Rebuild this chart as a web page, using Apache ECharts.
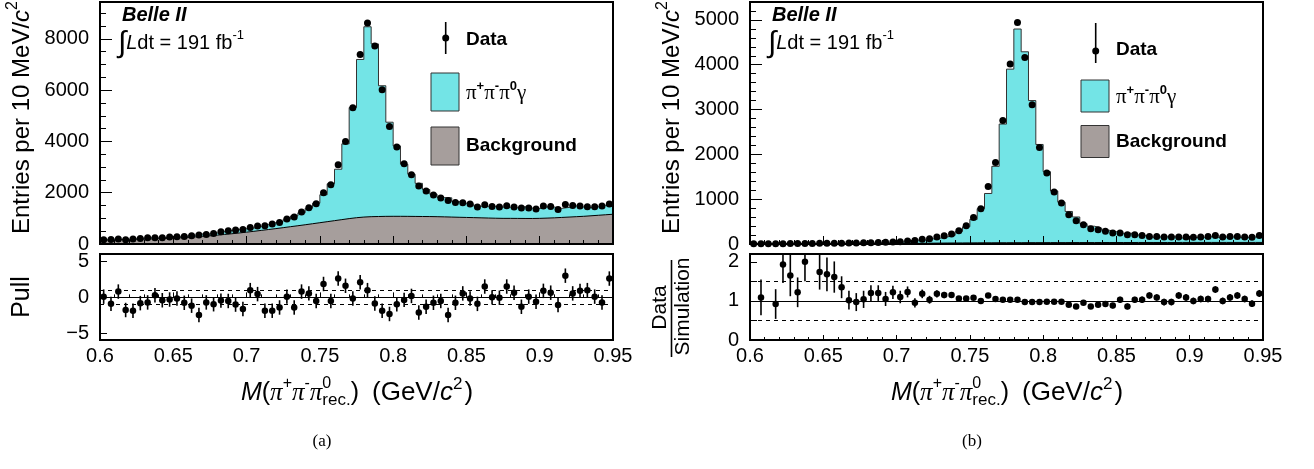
<!DOCTYPE html>
<html><head><meta charset="utf-8">
<script src="https://cdn.jsdelivr.net/npm/echarts@6/dist/echarts.min.js"></script>
<style>html,body{margin:0;padding:0;background:#fff}#c{width:1314px;height:469px}</style>
</head><body><div id="c"></div>
<script>
// ---------------- DATA ----------------
const X_MIN = 0.6, X_MAX = 0.95, BIN_W = 0.005, N_BINS = 70;
const xTickLabels = [0.6, 0.65, 0.7, 0.75, 0.8, 0.85, 0.9, 0.95];

// (a) left panel
const leftData = [166,179,192,166,192,218,244,244,244,270,
  283,296,322,348,374,413,478,517,543,569,
  647,699,712,777,842,972,1050,1245,1414,1570,
  1999,2311,3090,4000,5313,7392,8613,7717,6014,4585,
  3779,3129,2700,2259,2064,1908,1791,1700,1622,1609,
  1557,1440,1531,1466,1440,1492,1440,1401,1401,1362,
  1479,1466,1349,1544,1505,1479,1453,1453,1479,1557];
const leftMC = [165,191,181,189,218,230,255,239,250,275,
  286,309,343,394,388,432,488,528,566,607,
  622,687,761,829,883,969,1095,1217,1393,1590,
  1921,2345,2915,3905,5318,7195,8470,7800,6170,4748,
  3825,3110,2720,2365,2123,1941,1812,1801,1652,1587,
  1563,1474,1472,1466,1442,1434,1415,1450,1397,1384,
  1444,1441,1388,1426,1484,1444,1415,1449,1506,1454];
const leftBkg = [150,158,166,172,180,190,200,210,220,232,
  245,260,278,298,320,345,372,400,430,462,
  495,530,565,600,637,675,712,750,790,830,
  870,910,950,990,1025,1050,1065,1072,1078,1080,
  1080,1078,1075,1072,1070,1065,1058,1050,1042,1035,
  1028,1020,1012,1005,1000,1000,998,996,995,1000,
  1010,1020,1035,1050,1065,1080,1100,1120,1140,1160];
const leftPull = [0.1,-0.9,0.8,-1.75,-1.85,-0.8,-0.7,0.3,-0.4,-0.3,
  -0.15,-0.75,-1.15,-2.45,-0.7,-0.95,-0.45,-0.5,-1.0,-1.6,
  1.0,0.45,-1.85,-1.85,-1.4,0.1,-1.4,0.8,0.55,-0.5,
  1.85,-0.5,2.6,1.6,-0.15,2.1,1.0,-0.85,-1.85,-2.3,
  -0.95,-0.35,0.2,-2.1,-1.3,-0.75,-0.5,-2.45,-0.75,0.55,
  -0.15,-0.9,1.5,0,-0.05,1.5,0.65,-1.3,0.1,-0.6,
  0.9,0.65,-1.05,3.0,0.55,0.9,1.0,0.1,-0.7,2.6];
const PULL_ERR = 1;

// (b) right panel
const rightData = [5,6,6,7,8,9,10,11,12,14,
  15,17,19,21,24,27,30,34,38,44,
  51,66,80,105,118,156,185,223,297,408,
  594,787,1285,1820,2756,4019,4941,4160,3105,2154,
  1582,1158,913,653,519,430,341,319,282,245,
  245,207,208,192,170,170,155,155,155,155,
  148,155,170,192,155,170,170,155,148,192];
const rightMC = [4,5,3,8,4,5,8,6,4,8,
  9,10,14,21,25,26,25,28,36,36,
  46,54,84,89,115,132,161,194,280,385,
  550,787,1127,1733,2676,3902,4797,4289,3201,2221,
  1614,1182,932,726,603,453,397,354,307,278,
  238,241,202,186,149,156,160,160,136,142,
  148,148,162,149,155,156,149,148,159,161];
const rightBkg = [0,0,0,0,0,0,0,0,0,0,
  2,3,4,5,6,7,8,9,10,12,
  13,15,16,18,19,20,22,23,24,25,
  26,27,27,28,28,29,29,30,30,30,
  31,31,31,32,32,32,32,33,33,33,
  33,33,34,34,34,34,34,34,35,35,
  35,35,35,35,35,35,35,35,35,35];
const rightRatio = [null,1.09,null,0.92,1.93,1.65,1.22,2.0,null,1.74,
  1.68,1.61,1.35,1.02,0.97,1.04,1.2,1.2,1.05,1.22,
  1.1,1.23,0.95,1.18,1.03,1.18,1.15,1.15,1.06,1.06,
  1.08,1.0,1.14,1.05,1.03,1.03,1.03,0.97,0.97,0.97,
  0.98,0.98,0.98,0.9,0.86,0.95,0.86,0.9,0.92,0.88,
  1.03,0.86,1.03,1.03,1.14,1.09,0.97,0.97,1.14,1.09,
  1.0,1.05,1.05,1.29,1.0,1.09,1.14,1.05,0.93,1.19];
const rightRatioErr = [null,0.46,null,0.38,0.47,0.53,0.38,0.5,null,0.45,
  0.43,0.4,0.28,0.24,0.23,0.22,0.2,0.2,0.18,0.17,
  0.16,0.14,0.12,0.11,0.1,0.09,0.08,0.07,0.06,0.05,
  0.045,0.04,0.035,0.03,0.025,0.02,0.02,0.02,0.02,0.025,
  0.03,0.035,0.04,0.045,0.05,0.055,0.06,0.065,0.07,0.07,
  0.075,0.075,0.075,0.08,0.08,0.08,0.085,0.085,0.085,0.085,
  0.085,0.085,0.085,0.085,0.085,0.085,0.085,0.085,0.085,0.09];

// tick positions
const leftYMajor = [0,2000,4000,6000,8000];
const leftYMinor = [500,1000,1500,2000,2500,3000,3500,4000,4500,5000,5500,6000,6500,7000,7500,8000,8500,9000];
const rightYMajor = [0,1000,2000,3000,4000,5000];
const rightYMinor = [200,400,600,800,1000,1200,1400,1600,1800,2000,2200,2400,2600,2800,3000,3200,3400,3600,3800,4000,4200,4400,4600,4800,5000,5200];
const pullTicks = [-5,0,5];
const ratioLabels = [0,1,2];
const ratioTicks = [0,0.5,1,1.5,2];

// ---------------- HELPERS ----------------
const SANS = '"Liberation Sans", Arial, Helvetica, sans-serif';
const SERIF = '"Liberation Serif", "DejaVu Serif", serif';
const CYAN = '#73E4E6', GRAY = '#A69E9C';
const mctx = document.createElement('canvas').getContext('2d');

const center = i => X_MIN + BIN_W * (i + 0.5);
function hist(vals) {
  const d = vals.map((v, i) => [X_MIN + BIN_W * i, v]);
  d.push([X_MAX, vals[vals.length - 1]]);
  return d;
}
function pts(vals) {
  const d = [];
  vals.forEach((v, i) => { if (v != null) d.push([center(i), v]); });
  return d;
}
function errBars(xi, yi, vals, errFn) {
  const d = [];
  vals.forEach((v, i) => { const e = errFn(i); if (v != null && e != null) d.push([center(i), v, e]); });
  return {
    type: 'custom', xAxisIndex: xi, yAxisIndex: yi, z: 5, silent: true, data: d,
    encode: {x: 0, y: 1},
    renderItem: (params, api) => {
      const x = api.value(0), y = api.value(1), e = api.value(2);
      const p1 = api.coord([x, y - e]), p2 = api.coord([x, y + e]);
      const cs = params.coordSys, top = cs.y, bot = cs.y + cs.height;
      const c = v => Math.min(bot, Math.max(top, v));
      return {type: 'line', shape: {x1: p1[0], y1: c(p1[1]), x2: p2[0], y2: c(p2[1])},
        style: {stroke: '#000', lineWidth: 1.6}};
    }
  };
}
function refLines(solid, dashed) {
  return {
    symbol: ['none', 'none'], silent: true, animation: false,
    label: {show: false},
    lineStyle: {color: '#000', width: 1, type: [4, 4]},
    data: solid.map(v => ({yAxis: v, lineStyle: {type: 'solid', width: 1.2}}))
      .concat(dashed.map(v => ({yAxis: v})))
  };
}
function composite(pieces, opt) {
  let x = 0, lastStart = 0, lastEnd = 0;
  const items = [];
  pieces.forEach(p => {
    const fam = p.fam || SANS, st = p.style || 'normal', wt = p.weight || 'normal';
    mctx.font = `${st} ${wt} ${p.size}px ${fam}`;
    const w = mctx.measureText(p.t).width;
    let sx;
    if (p.stack) { sx = lastStart; lastEnd = Math.max(lastEnd, sx + w); x = lastEnd; }
    else { sx = x + (p.pre || 0); lastStart = sx; lastEnd = sx + w; x = lastEnd; }
    items.push({sx, p, fam, st, wt});
  });
  const W = x;
  const off = opt.align === 'center' ? -W / 2 : opt.align === 'right' ? -W : 0;
  return {
    type: 'group', x: opt.x, y: opt.y, rotation: opt.rotation || 0, z: 100,
    children: items.map(it => ({
      type: 'text', x: it.sx + off, y: it.p.dy || 0, z: 100,
      style: {text: it.p.t, fontSize: it.p.size, fontFamily: it.fam, fontStyle: it.st,
        fontWeight: it.wt, fill: '#000', align: 'left', verticalAlign: 'middle'}
    }))
  };
}

// ---------------- AXES ----------------
const GRIDS = [
  {left: 100, top: 2, width: 513, height: 242},
  {left: 100, top: 254, width: 513, height: 86},
  {left: 750, top: 2, width: 513, height: 242},
  {left: 750, top: 254, width: 513, height: 86}
].map(g => Object.assign(g, {show: true, borderColor: '#000', borderWidth: 2, backgroundColor: 'transparent', z: 10}));

const xAx = (grid, showLabel, tl, ml) => ({
  type: 'value', gridIndex: grid, min: X_MIN, max: X_MAX, interval: 0.05, z: 12,
  axisLine: {show: false}, splitLine: {show: false},
  axisTick: {show: true, inside: true, length: tl, lineStyle: {color: '#000', width: 1}},
  minorTick: {show: true, splitNumber: 5, length: ml, lineStyle: {color: '#000', width: 1}},
  axisLabel: {show: showLabel, fontSize: 20, color: '#000', fontFamily: SANS, margin: 6,
    customValues: xTickLabels, formatter: v => String(+(+v).toFixed(2))}
});
const yAx = (grid, min, max, ticks, len, labels) => ({
  type: 'value', gridIndex: grid, min, max, position: 'left', offset: 0, z: 12,
  axisLine: {show: false}, splitLine: {show: false},
  axisTick: {show: true, inside: true, length: len, customValues: ticks, lineStyle: {color: '#000', width: 1}},
  axisLabel: labels ? {show: true, customValues: labels, fontSize: 20, color: '#000', fontFamily: SANS, margin: 11,
    formatter: v => String(v).replace('-', '\u2212')} : {show: false}
});

const xAxis = [xAx(0, false, 8, 4), xAx(1, true, 5, 3), xAx(2, false, 8, 4), xAx(3, true, 5, 3)];
const yAxis = [
  yAx(0, 0, 9435, leftYMajor, 12, leftYMajor),   // 0
  yAx(0, 0, 9435, leftYMinor, 6, null),          // 1
  yAx(1, -5.9, 6.0, pullTicks, 7, pullTicks),    // 2
  yAx(2, 0, 5400, rightYMajor, 12, rightYMajor), // 3
  yAx(2, 0, 5400, rightYMinor, 6, null),         // 4
  yAx(3, 0, 2.2, ratioTicks, 7, ratioLabels)     // 5
];

// ---------------- SERIES ----------------
const histSeries = (xi, yi, vals, fill, stroke, z) => ({
  type: 'line', xAxisIndex: xi, yAxisIndex: yi, step: 'end', symbol: 'none', silent: true,
  data: hist(vals), lineStyle: {color: stroke, width: 1}, areaStyle: {color: fill, opacity: 1}, z
});
const dots = (xi, yi, vals, size, extra) => Object.assign({
  type: 'scatter', xAxisIndex: xi, yAxisIndex: yi, data: pts(vals), symbol: 'circle',
  symbolSize: size, itemStyle: {color: '#000', opacity: 1}, z: 6, silent: true
}, extra || {});

const series = [
  histSeries(0, 0, leftMC, CYAN, '#333', 2),
  histSeries(0, 0, leftBkg, GRAY, '#000', 3),
  dots(0, 0, leftData, 7),
  dots(1, 2, leftPull, 6.5, {markLine: refLines([0], [1, -1])}),
  errBars(1, 2, leftPull, () => PULL_ERR),
  histSeries(2, 3, rightMC, CYAN, '#333', 2),
  histSeries(2, 3, rightBkg, GRAY, '#000', 3),
  dots(2, 3, rightData, 7),
  dots(3, 5, rightRatio, 6.5, {markLine: refLines([1], [0.5, 1.5])}),
  errBars(3, 5, rightRatio, i => rightRatioErr[i])
];

// ---------------- TEXT / LEGEND ----------------
const S = 25, SUP = 16, S2 = 26;
const xTitle = [
  {t: 'M', size: S, style: 'italic'},
  {t: '(', size: S},
  {t: 'π', size: S, fam: SERIF, style: 'italic'},
  {t: '+', size: SUP, dy: -9},
  {t: 'π', size: S, fam: SERIF, style: 'italic'},
  {t: '-', size: SUP, dy: -9},
  {t: 'π', size: S, fam: SERIF, style: 'italic'},
  {t: '0', size: SUP, dy: -9},
  {t: 'rec.', size: SUP + 1, dy: 7, stack: true},
  {t: ')', size: S},
  {t: '(GeV/', size: S2, pre: 13},
  {t: 'c', size: S2, style: 'italic'},
  {t: '2', size: 17, dy: -9},
  {t: ')', size: S2, pre: 2}
];
const yTitle = [
  {t: 'Entries per 10 MeV/', size: 24},
  {t: 'c', size: 24, style: 'italic'},
  {t: '2', size: 16, dy: -9}
];
const lumi = [
  {t: '∫', size: 30, dy: 1},
  {t: 'L', size: 20, style: 'italic'},
  {t: 'dt = 191 fb', size: 20},
  {t: '-1', size: 13, dy: -8}
];
const sigLabel = [
  {t: 'π', size: 21, fam: SERIF},
  {t: '+', size: 13, weight: 'bold', dy: -7},
  {t: 'π', size: 21, fam: SERIF},
  {t: '-', size: 13, weight: 'bold', dy: -7},
  {t: 'π', size: 21, fam: SERIF},
  {t: '0', size: 13, weight: 'bold', dy: -7},
  {t: 'γ', size: 21, fam: SERIF}
];
const boldText = (t, x, y, size, italic) => ({
  type: 'text', x, y, z: 100,
  style: {text: t, fontSize: size, fontFamily: SANS, fontWeight: 'bold', fontStyle: italic ? 'italic' : 'normal',
    fill: '#000', align: 'left', verticalAlign: 'middle'}
});

function panelDecor(ox, leg) {
  return [
    boldText('Belle II', ox + 122, 15, 20, true),
    composite(lumi, {x: ox + 118, y: 43, align: 'left'}),
    composite(yTitle, {x: ox + 22, y: 234, align: 'left', rotation: Math.PI / 2}),
    composite(xTitle, {x: ox + 357, y: 393, align: 'center'}),
    // legend
    {type: 'line', z: 100, shape: {x1: leg.dx, y1: leg.dy1, x2: leg.dx, y2: leg.dy2}, style: {stroke: '#000', lineWidth: 1.6}},
    {type: 'circle', z: 100, shape: {cx: leg.dx, cy: leg.dc, r: 3.5}, style: {fill: '#000'}},
    boldText('Data', leg.tx, leg.dt, 19),
    {type: 'rect', z: 100, shape: {x: leg.bx, y: leg.c1, width: 28, height: leg.bh}, style: {fill: CYAN, stroke: '#333', lineWidth: 1}},
    composite(sigLabel, {x: leg.tx, y: leg.c1 + leg.bh / 2 + 1, align: 'left'}),
    {type: 'rect', z: 100, shape: {x: leg.bx, y: leg.c2, width: 28, height: leg.bh}, style: {fill: GRAY, stroke: '#333', lineWidth: 1}},
    boldText('Background', leg.tx, leg.c2 + leg.bh / 2, 19)
  ];
}

const graphic = [].concat(
  panelDecor(0, {dx: 445.7, dy1: 22, dy2: 54, dc: 38, dt: 40, tx: 466, bx: 431, c1: 73, c2: 127, bh: 38}),
  panelDecor(650, {dx: 1095.7, dy1: 23, dy2: 63, dc: 51, dt: 50, tx: 1116, bx: 1081, c1: 80, c2: 125.5, bh: 32}),
  [
    composite([{t: 'Pull', size: 25}], {x: 22, y: 297, align: 'center', rotation: Math.PI / 2}),
    composite([{t: 'Data', size: 21}], {x: 660.5, y: 307.5, align: 'center', rotation: Math.PI / 2}),
    composite([{t: 'Simulation', size: 21}], {x: 683.5, y: 306.5, align: 'center', rotation: Math.PI / 2}),
    {type: 'line', z: 100, shape: {x1: 671.5, y1: 260, x2: 671.5, y2: 357}, style: {stroke: '#000', lineWidth: 1.6}},
    {type: 'text', x: 322, y: 442, z: 100, style: {text: '(a)', fontSize: 17, fontFamily: SERIF, fill: '#000', align: 'center', verticalAlign: 'middle'}},
    {type: 'text', x: 972, y: 442, z: 100, style: {text: '(b)', fontSize: 17, fontFamily: SERIF, fill: '#000', align: 'center', verticalAlign: 'middle'}}
  ]
);

const chart = echarts.init(document.getElementById('c'), null, {renderer: 'canvas', width: 1314, height: 469});
chart.setOption({
  animation: false,
  backgroundColor: '#fff',
  grid: GRIDS,
  xAxis, yAxis, series, graphic
});
</script></body></html>
